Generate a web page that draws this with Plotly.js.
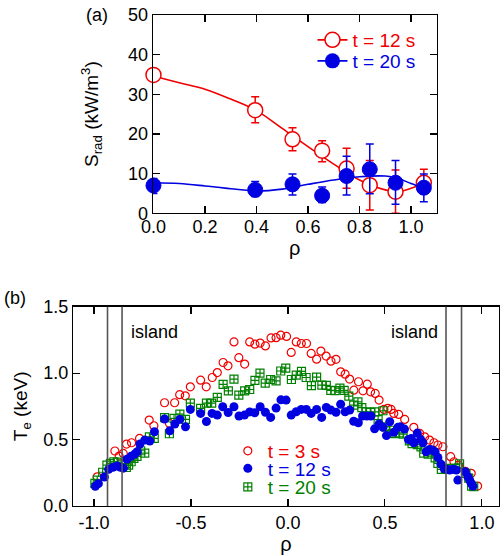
<!DOCTYPE html>
<html>
<head>
<meta charset="utf-8">
<script src="https://cdn.plot.ly/plotly-3.0.1.min.js"></script>
<style>html,body{margin:0;padding:0;background:#fff}#chart{width:504px;height:556px}</style>
</head>
<body>
<div id="chart"></div>
<script>
// ---------- Panel (a): radiated power density ----------
const rhoA = [0.0, 0.395, 0.54, 0.655, 0.75, 0.84, 0.94, 1.05];
const srad12 = [34.9, 26.0, 18.65, 15.8, 11.3, 7.1, 5.45, 7.7];
const srad12ErrPlus = [0, 3.4, 2.95, 2.5, 5.1, 6.2, 5.45, 3.4];
const srad12ErrMinus = [0, 3.2, 2.85, 2.8, 5.0, 6.3, 5.45, 2.7];
const srad20 = [7.0, 5.9, 7.3, 4.45, 9.4, 11.1, 7.7, 6.45];
const srad20ErrPlus = [1.8, 2.1, 2.6, 2.15, 5.0, 6.4, 5.6, 3.45];
const srad20ErrMinus = [2.0, 1.7, 2.7, 1.75, 4.8, 6.2, 5.4, 3.55];
// smooth fit curves
const fitRho = [0, 0.1, 0.2, 0.3, 0.4, 0.5, 0.6, 0.7, 0.8, 0.9, 0.95, 1.0, 1.05];
const fit12 = [34.6, 32.9, 31.3, 28.8, 25.9, 21.4, 16.8, 12.4, 8.4, 5.9, 5.5, 6.3, 7.7];
const fit20 = [7.7, 7.5, 6.9, 6.2, 5.6, 6.1, 7.3, 8.4, 9.2, 9.4, 8.8, 7.5, 6.4];

// ---------- Panel (b): electron temperature profiles ----------
const rho3 = [-0.983,-0.892,-0.870,-0.849,-0.832,-0.806,-0.765,-0.715,-0.691,-0.636,-0.611,-0.584,-0.558,-0.529,-0.503,-0.450,-0.421,-0.390,-0.364,-0.334,-0.309,-0.278,-0.253,-0.223,-0.197,-0.170,-0.143,-0.116,-0.087,-0.061,-0.037,-0.007,0.017,0.043,0.069,0.096,0.120,0.148,0.170,0.197,0.222,0.248,0.272,0.295,0.318,0.340,0.364,0.387,0.409,0.426,0.450,0.470,0.495,0.515,0.532,0.546,0.571,0.602,0.649,0.679,0.705,0.730,0.753,0.773,0.799,0.839,0.856,0.880,0.915,0.945,0.978];
const te3 = [0.220,0.414,0.376,0.396,0.466,0.476,0.509,0.647,0.604,0.777,0.622,0.777,0.838,0.829,0.897,0.947,0.897,0.967,1.004,1.080,1.055,1.235,1.116,1.068,1.235,1.218,1.226,1.205,1.265,1.267,1.286,1.276,1.156,1.235,1.223,1.223,1.148,1.105,1.166,1.128,1.090,1.104,1.010,0.992,0.955,0.872,0.935,0.867,0.917,0.859,0.847,0.797,0.727,0.735,0.727,0.697,0.689,0.652,0.592,0.547,0.521,0.496,0.476,0.459,0.446,0.371,0.333,0.308,0.260,0.246,0.150];

const rho12 = [-0.993,-0.977,-0.946,-0.924,-0.902,-0.880,-0.863,-0.848,-0.830,-0.809,-0.790,-0.777,-0.763,-0.738,-0.712,-0.688,-0.636,-0.609,-0.583,-0.557,-0.528,-0.503,-0.450,-0.420,-0.391,-0.364,-0.336,-0.308,-0.278,-0.252,-0.224,-0.197,-0.171,-0.143,-0.116,-0.089,-0.061,-0.036,-0.009,0.017,0.043,0.069,0.095,0.120,0.148,0.174,0.198,0.222,0.248,0.272,0.295,0.319,0.339,0.363,0.385,0.407,0.428,0.447,0.470,0.490,0.508,0.525,0.547,0.567,0.581,0.601,0.621,0.636,0.649,0.667,0.684,0.696,0.713,0.730,0.744,0.759,0.773,0.789,0.806,0.818,0.834,0.851,0.868,0.876,0.914,0.928,0.937,0.945,0.954];
const te12 = [0.148,0.168,0.218,0.276,0.291,0.301,0.291,0.285,0.352,0.374,0.391,0.408,0.466,0.496,0.489,0.559,0.655,0.566,0.617,0.652,0.596,0.727,0.697,0.636,0.697,0.684,0.747,0.704,0.747,0.677,0.684,0.708,0.702,0.747,0.706,0.667,0.737,0.799,0.797,0.684,0.709,0.727,0.727,0.697,0.727,0.667,0.742,0.722,0.706,0.766,0.709,0.722,0.638,0.627,0.677,0.677,0.677,0.581,0.617,0.592,0.530,0.634,0.556,0.592,0.596,0.579,0.500,0.509,0.476,0.549,0.501,0.476,0.408,0.426,0.421,0.408,0.366,0.315,0.280,0.276,0.271,0.276,0.271,0.195,0.258,0.220,0.195,0.170,0.150];

const rho20 = [-0.995,-0.983,-0.955,-0.933,-0.915,-0.897,-0.880,-0.857,-0.833,-0.821,-0.808,-0.794,-0.778,-0.759,-0.738,-0.714,-0.689,-0.636,-0.611,-0.587,-0.557,-0.528,-0.503,-0.450,-0.420,-0.393,-0.364,-0.334,-0.307,-0.278,-0.253,-0.223,-0.197,-0.170,-0.144,-0.117,-0.089,-0.061,-0.037,-0.011,0.018,0.043,0.070,0.094,0.121,0.148,0.175,0.198,0.221,0.243,0.268,0.290,0.314,0.339,0.361,0.381,0.404,0.426,0.448,0.465,0.490,0.505,0.524,0.537,0.553,0.576,0.594,0.626,0.640,0.667,0.686,0.700,0.723,0.742,0.759,0.773,0.791,0.815,0.842,0.863,0.885,0.918,0.932,0.947,0.958];
const te20 = [0.170,0.195,0.254,0.308,0.321,0.333,0.330,0.316,0.290,0.308,0.333,0.358,0.374,0.416,0.398,0.521,0.509,0.665,0.544,0.659,0.692,0.652,0.775,0.735,0.775,0.775,0.817,0.916,0.867,0.955,0.835,0.867,0.877,0.945,1.000,0.925,0.952,0.941,1.016,1.037,0.952,0.985,1.013,0.967,0.906,0.970,0.910,0.908,0.870,0.869,0.887,0.870,0.827,0.759,0.784,0.741,0.709,0.704,0.709,0.650,0.717,0.596,0.570,0.547,0.545,0.550,0.541,0.490,0.470,0.462,0.445,0.398,0.391,0.405,0.362,0.321,0.276,0.280,0.283,0.283,0.318,0.246,0.210,0.150,0.145];

const islandEdges = [-0.93, -0.855, 0.815, 0.895];
const tickValsB = [-1, -0.5, 0, 0.5, 1];
const tickTextB = ['-1.0', '-0.5', '0.0', '0.5', '1.0'];

const RED = 'rgb(240,0,0)', BLUE = 'rgb(0,0,225)', GREEN = 'rgb(0,128,0)';
const FONT = 'Liberation Sans, Arial, sans-serif';

const traces = [
  // panel (a) fits
  {x: fitRho, y: fit12, xaxis: 'x', yaxis: 'y', mode: 'lines', line: {color: RED, width: 1.6, shape: 'spline', smoothing: 1}, showlegend: false, hoverinfo: 'skip'},
  {x: fitRho, y: fit20, xaxis: 'x', yaxis: 'y', mode: 'lines', line: {color: BLUE, width: 1.6, shape: 'spline', smoothing: 1}, showlegend: false, hoverinfo: 'skip'},
  // panel (a) data
  {x: rhoA, y: srad12, xaxis: 'x', yaxis: 'y', mode: 'markers', cliponaxis: false,
   marker: {symbol: 'circle', size: 15, color: 'white', line: {color: RED, width: 1.5}},
   error_y: {type: 'data', array: srad12ErrPlus, arrayminus: srad12ErrMinus, color: RED, thickness: 1.5, width: 4}, showlegend: false},
  {x: rhoA, y: srad20, xaxis: 'x', yaxis: 'y', mode: 'markers', cliponaxis: false,
   marker: {symbol: 'circle', size: 15, color: BLUE, line: {color: BLUE, width: 1}},
   error_y: {type: 'data', array: srad20ErrPlus, arrayminus: srad20ErrMinus, color: BLUE, thickness: 1.5, width: 4}, showlegend: false},
  // legend entries for (a)
  {x: [null], y: [null], xaxis: 'x', yaxis: 'y', mode: 'lines+markers', name: 't = 12 s', legend: 'legend',
   line: {color: RED, width: 1.6}, marker: {symbol: 'circle', size: 15, color: 'white', line: {color: RED, width: 1.5}}},
  {x: [null], y: [null], xaxis: 'x', yaxis: 'y', mode: 'lines+markers', name: 't = 20 s', legend: 'legend2',
   line: {color: BLUE, width: 1.6}, marker: {symbol: 'circle', size: 15, color: BLUE}},
  // panel (b)
  {x: rho3, y: te3, xaxis: 'x2', yaxis: 'y2', mode: 'markers', name: 't = 3 s', legend: 'legend3',
   marker: {symbol: 'circle-open', size: 8, color: RED, line: {width: 1.2}}},
  {x: rho20, y: te20, xaxis: 'x2', yaxis: 'y2', mode: 'markers', name: 't = 20 s', legend: 'legend5',
   marker: {symbol: 'square-cross-open', size: 8, color: GREEN, line: {width: 1.2}}},
  {x: rho12, y: te12, xaxis: 'x2', yaxis: 'y2', mode: 'markers', name: 't = 12 s', legend: 'legend4',
   marker: {symbol: 'circle', size: 9, color: BLUE}}
];

function ax(extra) {
  return Object.assign({showgrid: false, zeroline: false, showline: true, linecolor: '#000', linewidth: 1.2,
    mirror: 'allticks', ticks: 'inside', ticklen: 7, tickwidth: 1.2, tickcolor: '#000',
    tickfont: {family: FONT, size: 18, color: '#000'}}, extra);
}
function leg(x, y, color) {
  return {x: x, y: y, xanchor: 'left', yanchor: 'middle', bgcolor: 'rgba(0,0,0,0)', borderwidth: 0,
    font: {family: FONT, size: 19, color: color}, itemwidth: 30};
}

const shapes = islandEdges.map(v => ({type: 'line', xref: 'x2', yref: 'y2 domain', x0: v, x1: v, y0: 0, y1: 1,
  line: {color: '#555', width: 1.6}}));

const layout = {
  width: 504, height: 556, margin: {l: 0, r: 0, t: 0, b: 0},
  paper_bgcolor: '#fff', plot_bgcolor: '#fff', font: {family: FONT, color: '#000'},
  xaxis: ax({domain: [0.303, 0.8665], anchor: 'y', range: [-0.003, 1.1], tickvals: [0, 0.2, 0.4, 0.6, 0.8, 1.0], tickformat: '.1f',
    ticklabelstandoff: -3, title: {text: 'ρ', font: {family: FONT, size: 20}, standoff: 0}}),
  yaxis: ax({domain: [0.6164, 0.973], anchor: 'x', range: [0, 50], tickvals: [0, 10, 20, 30, 40, 50]}),
  xaxis2: ax({domain: [0.1448, 0.990], anchor: 'y2', range: [-1.108, 1.088], tickvals: tickValsB, ticktext: tickTextB,
    title: {text: 'ρ', font: {family: FONT, size: 20}, standoff: 2}}),
  yaxis2: ax({domain: [0.0899, 0.4484], anchor: 'x2', range: [0, 1.5], tickvals: [0, 0.5, 1.0, 1.5], tickformat: '.1f',
    title: {text: 'T<sub>e</sub> (keV)', font: {family: FONT, size: 19}, standoff: 10}}),
  showlegend: true,
  legend: leg(0.62, 1 - 40 / 556, RED),
  legend2: leg(0.62, 1 - 61 / 556, BLUE),
  legend3: leg(0.452, 1 - 451 / 556, RED),
  legend4: leg(0.452, 1 - 468.5 / 556, BLUE),
  legend5: leg(0.452, 1 - 487 / 556, GREEN),
  shapes: shapes,
  annotations: [
    {text: 'S<sub>rad</sub> (kW/m<sup>3</sup>)', xref: 'paper', yref: 'paper', x: 91 / 504, y: 1 - 114 / 556, textangle: -90,
     showarrow: false, font: {family: FONT, size: 19}, xanchor: 'center', yanchor: 'middle'},
    {text: '(a)', xref: 'paper', yref: 'paper', x: 97 / 504, y: 1 - 15 / 556, showarrow: false, font: {family: FONT, size: 18}, xanchor: 'center', yanchor: 'middle'},
    {text: '(b)', xref: 'paper', yref: 'paper', x: 15 / 504, y: 1 - 298 / 556, showarrow: false, font: {family: FONT, size: 18}, xanchor: 'center', yanchor: 'middle'},
    {text: 'island', xref: 'x2', yref: 'y2', x: -0.686, y: 1.31, showarrow: false, font: {family: FONT, size: 18}},
    {text: 'island', xref: 'x2', yref: 'y2', x: 0.655, y: 1.31, showarrow: false, font: {family: FONT, size: 18}}
  ]
};

Plotly.newPlot('chart', traces, layout, {displayModeBar: false, staticPlot: true});
</script>
</body>
</html>
